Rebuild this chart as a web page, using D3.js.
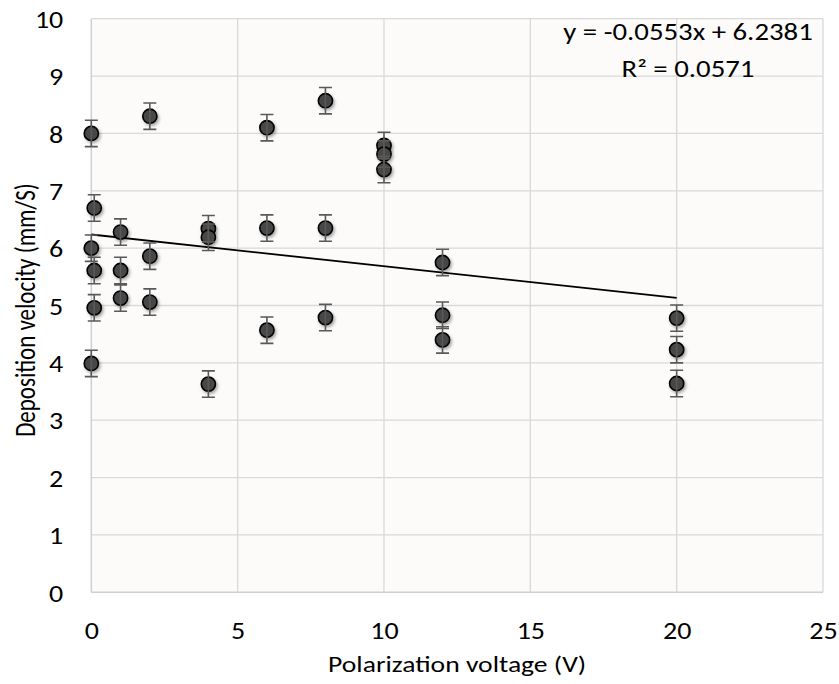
<!DOCTYPE html>
<html>
<head>
<meta charset="utf-8">
<script src="https://cdn.jsdelivr.net/npm/d3@7"></script>
<style>
  body { margin: 0; background: #fff; }
  text { font-family: Carlito, Lato, sans-serif; fill: #000; }
</style>
</head>
<body>
<svg id="chart" width="839" height="684"></svg>
<script>
// polarization voltage (V) for each measurement
const voltage = [0, 0, 0, 0.1, 0.1, 0.1, 1, 1, 1, 2, 2, 2, 4, 4, 4,
                 6, 6, 6, 8, 8, 8, 10, 10, 10, 12, 12, 12, 20, 20, 20];
// deposition velocity (mm/S)
const velocity = [8.0, 6.0, 3.99, 6.7, 5.61, 4.96, 6.28, 5.61, 5.13, 8.3, 5.86, 5.06, 6.34, 6.19, 3.63,
                  8.1, 6.35, 4.57, 8.57, 6.35, 4.79, 7.79, 7.64, 7.37, 5.75, 4.83, 4.4, 4.78, 4.23, 3.64];
const errorSize = 0.23;
const trendSlope = -0.0553;
const trendIntercept = 6.2381;
const xTicks = [0, 5, 10, 15, 20, 25];
const yTicks = [0, 1, 2, 3, 4, 5, 6, 7, 8, 9, 10];

const svg = d3.select('#chart');
const plot = {left: 91.3, right: 823, top: 18.7, bottom: 592.3};
const stretch = 1.2; // the original text looks wider than tall

const x = d3.scaleLinear().domain([0, 25]).range([plot.left, plot.right]);
const y = d3.scaleLinear().domain([0, 10]).range([plot.bottom, plot.top]);

const defs = svg.append('defs');
const shadow = defs.append('filter').attr('id', 'shadow')
  .attr('x', '-50%').attr('y', '-50%').attr('width', '200%').attr('height', '200%');
shadow.append('feDropShadow')
  .attr('dx', 1.5).attr('dy', 2).attr('stdDeviation', 1.8)
  .attr('flood-color', '#000').attr('flood-opacity', 0.35);

// plot background
svg.append('rect')
  .attr('x', plot.left).attr('y', plot.top)
  .attr('width', plot.right - plot.left).attr('height', plot.bottom - plot.top)
  .attr('fill', '#fcfbfa');

// gridlines
svg.append('g')
  .selectAll('line').data(yTicks.slice(1)).join('line')
  .attr('x1', plot.left).attr('x2', plot.right)
  .attr('y1', d => y(d)).attr('y2', d => y(d))
  .attr('stroke', '#d9d9d9').attr('stroke-width', 1.3);
svg.append('g')
  .selectAll('line').data(xTicks.slice(1)).join('line')
  .attr('y1', plot.top).attr('y2', plot.bottom)
  .attr('x1', d => x(d)).attr('x2', d => x(d))
  .attr('stroke', '#d9d9d9').attr('stroke-width', 1.3);

// axes lines
svg.append('line')
  .attr('x1', plot.left).attr('x2', plot.left).attr('y1', plot.top).attr('y2', plot.bottom)
  .attr('stroke', '#cfcfcf').attr('stroke-width', 1.5);
svg.append('line')
  .attr('x1', plot.left).attr('x2', plot.right).attr('y1', plot.bottom).attr('y2', plot.bottom)
  .attr('stroke', '#cfcfcf').attr('stroke-width', 1.5);

// tick labels
const yAxis = svg.append('g')
  .attr('transform', `translate(${plot.left - 28},0)`)
  .call(d3.axisLeft(y).tickValues(yTicks).tickSize(0).tickPadding(0));
yAxis.select('.domain').remove();
yAxis.selectAll('text').attr('font-size', 25).attr('dy', '0.35em')
  .attr('transform', 'scale(1.12,1)')
  .style('font-family', 'Carlito, Lato, sans-serif');

const xAxis = svg.append('g')
  .attr('transform', `translate(0,${plot.bottom + 38})`)
  .call(d3.axisBottom(x).tickValues(xTicks).tickSize(0).tickPadding(0));
xAxis.select('.domain').remove();
xAxis.selectAll('text').attr('font-size', 25).attr('y', 0).attr('dy', '0.35em')
  .attr('transform', 'scale(1.12,1)')
  .style('font-family', 'Carlito, Lato, sans-serif');

// trendline over the data range
const xExtent = d3.extent(voltage);
svg.append('line')
  .attr('x1', x(xExtent[0])).attr('y1', y(trendSlope * xExtent[0] + trendIntercept))
  .attr('x2', x(xExtent[1])).attr('y2', y(trendSlope * xExtent[1] + trendIntercept))
  .attr('stroke', '#000').attr('stroke-width', 1.8);

const points = voltage.map((v, i) => ({x: v, y: velocity[i]}));

// markers
svg.append('g')
  .selectAll('circle').data(points).join('circle')
  .attr('cx', d => x(d.x)).attr('cy', d => y(d.y))
  .attr('r', 7.1)
  .attr('fill', '#474747')
  .attr('stroke', '#000').attr('stroke-width', 1.6)
  .attr('filter', 'url(#shadow)');

// error bars
const err = svg.append('g').attr('stroke', '#595959').attr('stroke-width', 1.6).attr('fill', 'none');
err.selectAll('path').data(points).join('path')
  .attr('d', d => {
    const cx = x(d.x), y0 = y(d.y - errorSize), y1 = y(d.y + errorSize), w = 6.5;
    return `M${cx},${y0}V${y1}M${cx - w},${y0}H${cx + w}M${cx - w},${y1}H${cx + w}`;
  });

// trendline label
const eqLines = ['y = -0.0553x + 6.2381', 'R² = 0.0571'];
svg.append('g')
  .selectAll('text').data(eqLines).join('text')
  .attr('transform', (d, i) => `translate(688,${40 + i * 37}) scale(${stretch},1)`)
  .attr('text-anchor', 'middle').attr('font-size', 24)
  .text(d => d);

// axis titles
svg.append('text')
  .attr('transform', `translate(${(plot.left + plot.right) / 2},672) scale(${stretch},1)`)
  .attr('text-anchor', 'middle').attr('font-size', 23)
  .text('Polarization voltage (V)');
svg.append('text')
  .attr('transform', `translate(35,310) scale(${stretch},1) rotate(-90)`)
  .attr('text-anchor', 'middle').attr('font-size', 23)
  .text('Deposition velocity (mm/S)');
</script>
</body>
</html>
